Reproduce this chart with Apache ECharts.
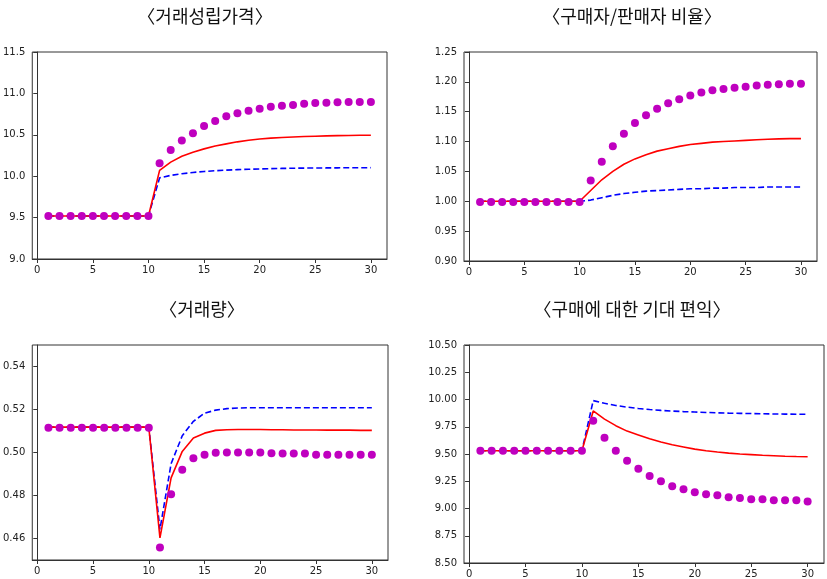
<!DOCTYPE html>
<html><head><meta charset="utf-8">
<script src="https://cdn.jsdelivr.net/npm/echarts@6/dist/echarts.min.js"></script>
<style>html,body{margin:0;padding:0;background:#fff}#c{width:827px;height:579px}</style>
</head><body><div id="c"></div>
<script>
const periods = Array.from({length:30},(_,i)=>i+1);
const xTicks = [0,5,10,15,20,25,30];
const titles = ['〈거래성립가격〉','〈구매자/판매자 비율〉','〈거래량〉','〈구매에 대한 기대 편익〉'];

// Panel 1: 거래성립가격
const price_dots = [9.52,9.52,9.52,9.52,9.52,9.52,9.52,9.52,9.52,9.52,10.155,10.316,10.43,10.52,10.606,10.667,10.723,10.759,10.791,10.816,10.84,10.852,10.86,10.876,10.884,10.888,10.893,10.895,10.895,10.895];
const price_red = [9.52,9.52,9.52,9.52,9.52,9.52,9.52,9.52,9.52,9.52,10.07,10.17,10.24,10.29,10.33,10.365,10.39,10.415,10.435,10.45,10.46,10.467,10.474,10.479,10.483,10.487,10.49,10.492,10.494,10.495];
const price_blue = [9.52,9.52,9.52,9.52,9.52,9.52,9.52,9.52,9.52,9.52,9.98,10.01,10.03,10.045,10.057,10.066,10.073,10.079,10.084,10.088,10.091,10.094,10.096,10.098,10.099,10.1,10.101,10.102,10.102,10.103];
const priceTicks = [9.0,9.5,10.0,10.5,11.0,11.5];

// Panel 2: 구매자/판매자 비율
const ratio_dots = [0.999,0.999,0.999,0.999,0.999,0.999,0.999,0.999,0.999,0.999,1.035,1.066,1.092,1.113,1.131,1.144,1.155,1.164,1.171,1.177,1.182,1.186,1.188,1.19,1.192,1.194,1.195,1.196,1.197,1.197];
const ratio_red = [1.0,1.0,1.0,1.0,1.0,1.0,1.0,1.0,1.0,1.0,1.018,1.036,1.05,1.062,1.071,1.078,1.084,1.088,1.092,1.095,1.097,1.099,1.1,1.101,1.102,1.103,1.104,1.1045,1.105,1.105];
const ratio_blue = [1.0,1.0,1.0,1.0,1.0,1.0,1.0,1.0,1.0,1.0,1.002,1.006,1.01,1.013,1.015,1.017,1.018,1.019,1.02,1.021,1.021,1.022,1.022,1.023,1.023,1.023,1.024,1.024,1.024,1.024];
const ratioTicks = [0.90,0.95,1.00,1.05,1.10,1.15,1.20,1.25];

// Panel 3: 거래량
const volume_dots = [0.5115,0.5115,0.5115,0.5115,0.5115,0.5115,0.5115,0.5115,0.5115,0.5115,0.4558,0.4806,0.492,0.4973,0.499,0.4999,0.5,0.5,0.5,0.5,0.4996,0.4995,0.4995,0.4995,0.499,0.499,0.499,0.499,0.499,0.499];
const volume_red = [0.5118,0.5118,0.5118,0.5118,0.5118,0.5118,0.5118,0.5118,0.5118,0.5118,0.4603,0.4882,0.5005,0.5067,0.509,0.5103,0.5106,0.5107,0.5107,0.5107,0.5106,0.5106,0.5105,0.5105,0.5105,0.5104,0.5104,0.5104,0.5103,0.5103];
const volume_blue = [0.5118,0.5118,0.5118,0.5118,0.5118,0.5118,0.5118,0.5118,0.5118,0.5118,0.4642,0.4948,0.5078,0.5145,0.5183,0.5197,0.5204,0.5207,0.5208,0.5208,0.5208,0.5208,0.5208,0.5208,0.5208,0.5208,0.5208,0.5208,0.5208,0.5208];
const volumeTicks = [0.46,0.48,0.50,0.52,0.54];

// Panel 4: 구매에 대한 기대 편익
const benefit_dots = [9.529,9.529,9.529,9.529,9.529,9.529,9.529,9.529,9.529,9.529,9.805,9.649,9.529,9.437,9.364,9.299,9.25,9.204,9.177,9.149,9.131,9.122,9.103,9.097,9.085,9.085,9.076,9.076,9.076,9.064];
const benefit_red = [9.53,9.53,9.53,9.53,9.53,9.53,9.53,9.53,9.53,9.53,9.895,9.82,9.76,9.71,9.675,9.64,9.61,9.585,9.565,9.545,9.53,9.518,9.508,9.5,9.494,9.488,9.484,9.48,9.477,9.475];
const benefit_blue = [9.53,9.53,9.53,9.53,9.53,9.53,9.53,9.53,9.53,9.53,9.99,9.965,9.945,9.93,9.918,9.908,9.9,9.894,9.889,9.885,9.881,9.878,9.875,9.873,9.871,9.869,9.867,9.866,9.865,9.864];
const benefitTicks = [8.50,8.75,9.00,9.25,9.50,9.75,10.00,10.25,10.50];

const panels = [
  {grid:{left:32,top:52,width:355,height:207}, ymin:9.0, ymax:11.5, ticks:priceTicks, dec:1, dots:price_dots, red:price_red, blue:price_blue, title:{x:200,y:2}},
  {grid:{left:464,top:52,width:353,height:209}, ymin:0.90, ymax:1.25, ticks:ratioTicks, dec:2, dots:ratio_dots, red:ratio_red, blue:ratio_blue, title:{x:627,y:2}},
  {grid:{left:32,top:345,width:356,height:215}, ymin:0.45, ymax:0.55, ticks:volumeTicks, dec:2, dots:volume_dots, red:volume_red, blue:volume_blue, title:{x:197,y:295}},
  {grid:{left:464,top:345,width:360,height:218}, ymin:8.50, ymax:10.50, ticks:benefitTicks, dec:2, dots:benefit_dots, red:benefit_red, blue:benefit_blue, title:{x:627,y:295}}
];

const axisColor = '#333';
const labelStyle = {color:'#222', fontSize:10, fontFamily:'DejaVu Sans'};
const option = {animation:false, backgroundColor:'#fff', title:[], grid:[], xAxis:[], yAxis:[], series:[]};
panels.forEach((p,i)=>{
  option.title.push({text:titles[i], left:p.title.x, top:p.title.y, textAlign:'center',
    textStyle:{fontFamily:'Noto Sans CJK KR', fontSize:18, fontWeight:'normal', color:'#111'}});
  option.grid.push(Object.assign({show:true, borderColor:axisColor, borderWidth:1, backgroundColor:'#fff'}, p.grid));
  option.xAxis.push({type:'value', gridIndex:i, min:-0.45, max:31.45,
    axisLine:{show:true, lineStyle:{color:axisColor}},
    axisTick:{show:true, length:4, lineStyle:{color:axisColor}, customValues:xTicks},
    axisLabel:Object.assign({margin:6, customValues:xTicks, formatter:v=>String(v)}, labelStyle),
    splitLine:{show:false}});
  option.yAxis.push({type:'value', gridIndex:i, min:p.ymin, max:p.ymax,
    axisLine:{show:true, lineStyle:{color:axisColor}},
    axisTick:{show:true, length:4, lineStyle:{color:axisColor}, customValues:p.ticks},
    axisLabel:Object.assign({margin:7, customValues:p.ticks, formatter:v=>Number(v).toFixed(p.dec)}, labelStyle),
    splitLine:{show:false}});
  const pair = arr => periods.map((x,k)=>[x, arr[k]]);
  option.series.push({type:'line', xAxisIndex:i, yAxisIndex:i, data:pair(p.blue), showSymbol:false, symbol:'none',
    lineStyle:{color:'#0000FF', width:1.6, type:[6,3]}, z:2});
  option.series.push({type:'line', xAxisIndex:i, yAxisIndex:i, data:pair(p.red), showSymbol:false, symbol:'none',
    lineStyle:{color:'#FF0000', width:1.6}, z:3});
  option.series.push({type:'scatter', xAxisIndex:i, yAxisIndex:i, data:pair(p.dots), symbol:'circle', symbolSize:8,
    itemStyle:{color:'#BF00BF', opacity:1}, z:4});
});
echarts.init(document.getElementById('c'), null, {renderer:'canvas'}).setOption(option);
</script></body></html>
